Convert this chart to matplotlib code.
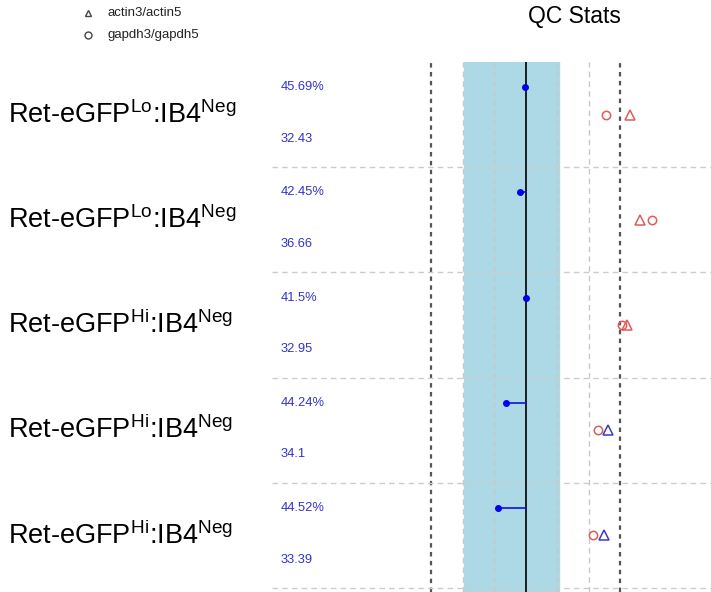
import matplotlib
matplotlib.use("Agg")
import matplotlib.pyplot as plt
import matplotlib.transforms as mtransforms
from matplotlib.lines import Line2D

plt.rcParams["font.family"] = "Liberation Sans"
plt.rcParams["mathtext.fontset"] = "custom"
plt.rcParams["mathtext.rm"] = "Liberation Sans"
plt.rcParams["mathtext.it"] = "Liberation Sans:italic"

# one row per sample, top to bottom
gfp_level = ["Lo", "Lo", "Hi", "Hi", "Hi"]
pct_labels = [45.69, 42.45, 41.5, 44.24, 44.52]
val_labels = [32.43, 36.66, 32.95, 34.1, 33.39]
dot_x = [-0.03, -0.19, 0.0, -0.62, -0.86]
actin_ratio = [3.31, 3.62, 3.21, 2.61, 2.50]
gapdh_ratio = [2.57, 4.01, 3.05, 2.31, 2.15]
actin_ok = [False, False, False, True, True]

band = (-1.95, 1.07)
grey_lines = [-2, -1, 1, 2]
dark_lines = [-3, 3]

RED = "#e05a5a"
BLUE = "#3a3acc"
TXT = "#3333cc"

W, H = 711, 592
fig = plt.figure(figsize=(W / 100, H / 100), dpi=100)
ax = fig.add_axes([272 / W, 0, (W - 272) / W, 530 / H])
ax.set_xlim((272 - 525.5) / 31.5, (W - 525.5) / 31.5)
ax.set_ylim(-0.038, 5)
ax.axis("off")

ax.axvspan(band[0], band[1], color="#add8e6", zorder=0)
for x in grey_lines:
    ax.axvline(x, color="#c8c8c8", lw=1, ls=(0, (4, 3)), zorder=1)
for x in dark_lines:
    ax.axvline(x, color="#555555", lw=1.6, ls=(0, (2, 2)), zorder=1)
for y in range(5):
    ax.axhline(y, color="#cccccc", lw=1, ls=(0, (4, 3)), zorder=1)
ax.axvline(0, color="black", lw=1.2, zorder=2)

n = len(gfp_level)
label_tf = mtransforms.blended_transform_factory(fig.transFigure, ax.transData)
for i in range(n):
    top = n - i
    mid = top - 0.5
    y_dot = top - 0.24
    ax.plot([dot_x[i], 0], [y_dot, y_dot], color="#1010dd", lw=1.2, zorder=3)
    ax.plot(dot_x[i], y_dot, "o", color="#0000ee", ms=4, zorder=4)

    ax.text(-7.76, y_dot, f"{pct_labels[i]:g}%", color=TXT, fontsize=9.3,
            va="center", ha="left")
    ax.text(-7.76, top - 0.73, f"{val_labels[i]:g}", color=TXT, fontsize=9.3,
            va="center", ha="left")

    ax.plot(gapdh_ratio[i], mid, "o", mfc="none", mec=RED, mew=1.1, ms=6, zorder=4)
    ax.plot(actin_ratio[i], mid, "^", mfc="none", mew=1.1, ms=6.5, zorder=4,
            mec=BLUE if actin_ok[i] else RED)

    name = r"Ret-eGFP$^{\mathrm{%s}}$:IB4$^{\mathrm{Neg}}$" % gfp_level[i]
    ax.text(8 / W, mid, name, transform=label_tf, fontsize=19.5,
            va="center", ha="left")

fig.text(528 / W, 1 - 16 / H, "QC Stats", fontsize=16.5, va="center", ha="left")

# legend
for y_px, mk, lab in [(13, "^", "actin3/actin5"), (35, "o", "gapdh3/gapdh5")]:
    fig.add_artist(Line2D([88 / W], [1 - y_px / H], marker=mk, mfc="none",
                          mec="#444444", mew=1, ms=5, ls="none"))
    fig.text(108 / W, 1 - y_px / H, lab, fontsize=9.5, va="center", ha="left",
             color="#222222")

fig.savefig("out.png", dpi=100)
